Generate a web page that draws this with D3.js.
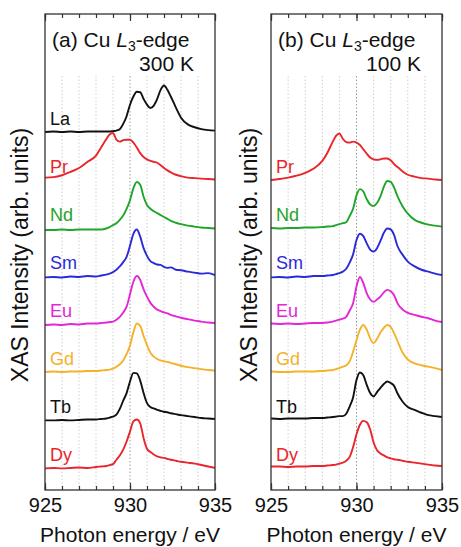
<!DOCTYPE html>
<html>
<head>
<meta charset="utf-8">
<script src="https://cdn.jsdelivr.net/npm/d3@7"></script>
<style>
  body { margin: 0; background: #fff; }
  svg text { font-family: "Liberation Sans", Arial, Helvetica, sans-serif; }
</style>
</head>
<body>
<svg id="chart" width="461" height="547"></svg>
<script>
// Photon energy grid (eV) shared by every spectrum
const energy = [925, 925.5, 926, 926.5, 927, 927.5, 928, 928.3, 928.6, 928.8,
  929.0, 929.2, 929.4, 929.6, 929.8, 930.0, 930.2, 930.4, 930.6, 930.8,
  931.0, 931.2, 931.4, 931.6, 931.8, 932.0, 932.2, 932.4,
  932.7, 933.0, 933.4, 933.8, 934.2, 934.6, 935];

const tickEnergies = d3.range(925, 936, 1);
const labeledTicks = [925, 930, 935];

// Stacking order, top to bottom
const samples300 = ["La", "Pr", "Nd", "Sm", "Eu", "Gd", "Tb", "Dy"];
const samples100 = ["Pr", "Nd", "Sm", "Eu", "Gd", "Tb", "Dy"];

// Cu L3-edge XAS, 300 K (normalized intensity)
const la300 = [0.00,0.01,0.00,0.01,0.00,0.01,0.01, 0.01,0.01,0.01,
  0.02,0.03,0.06,0.17,0.33,0.57,0.74,0.84,0.83,0.69,0.57,0.50,0.55,0.69,0.88,0.97,0.88,0.74,
  0.51,0.30,0.16,0.10,0.06,0.04,0.03];
const pr300 = [0.05,0.06,0.10,0.17,0.25,0.38,0.51, 0.68,0.85,0.95,
  0.98,0.84,0.80,0.83,0.84,0.84,0.78,0.68,0.56,0.48,0.43,0.40,0.38,0.36,0.31,0.25,0.20,0.16,
  0.11,0.08,0.05,0.04,0.03,0.02,0.01];
const nd300 = [-0.04,-0.04,-0.03,-0.04,-0.03,-0.03,-0.03, -0.03,-0.01,0.02,
  0.06,0.10,0.17,0.26,0.40,0.58,0.83,0.96,0.90,0.65,0.48,0.40,0.35,0.31,0.27,0.23,0.19,0.15,
  0.11,0.08,0.05,0.03,0.01,0.00,-0.01];
const sm300 = [-0.03,-0.02,-0.03,-0.01,-0.02,0.00,-0.01, 0.01,0.03,0.05,
  0.08,0.13,0.20,0.29,0.40,0.63,0.88,0.97,0.82,0.58,0.42,0.31,0.27,0.24,0.23,0.19,0.17,0.18,
  0.13,0.12,0.09,0.07,0.05,0.06,0.02];
const eu300 = [-0.02,-0.01,-0.02,0.00,-0.01,0.01,0.01, 0.02,0.03,0.04,
  0.05,0.09,0.15,0.24,0.36,0.62,0.88,1.00,0.92,0.72,0.57,0.44,0.36,0.30,0.27,0.24,0.22,0.19,
  0.16,0.13,0.10,0.07,0.05,0.03,0.02];
const gd300 = [0.00,0.01,0.00,0.01,0.01,0.02,0.02, 0.03,0.04,0.05,
  0.07,0.11,0.16,0.24,0.37,0.55,0.83,1.01,0.96,0.75,0.56,0.40,0.32,0.27,0.24,0.22,0.21,0.19,
  0.16,0.13,0.10,0.08,0.06,0.04,0.03];
const tb300 = [-0.01,-0.01,0.00,-0.01,0.00,0.01,0.01, 0.02,0.03,0.05,
  0.07,0.11,0.23,0.40,0.56,0.80,0.98,0.97,0.82,0.56,0.35,0.27,0.24,0.21,0.19,0.17,0.16,0.14,
  0.12,0.10,0.08,0.06,0.04,0.03,0.02];
const dy300 = [-0.01,0.00,-0.01,0.00,0.01,0.00,0.02, 0.03,0.04,0.06,
  0.08,0.17,0.26,0.38,0.55,0.76,0.97,1.01,0.93,0.62,0.40,0.33,0.28,0.24,0.22,0.21,0.19,0.17,
  0.15,0.13,0.11,0.09,0.06,0.03,0.00];

// Cu L3-edge XAS, 100 K (normalized intensity)
const pr100 = [0.00,0.02,0.05,0.09,0.15,0.24,0.40, 0.57,0.79,0.92,
  0.97,0.86,0.79,0.78,0.80,0.78,0.73,0.64,0.55,0.47,0.43,0.42,0.43,0.45,0.45,0.41,0.33,0.27,
  0.18,0.11,0.07,0.04,0.03,0.01,0.00];
const nd100 = [0.00,-0.01,0.00,0.00,0.01,0.01,0.02, 0.03,0.04,0.06,
  0.08,0.10,0.12,0.25,0.40,0.68,0.81,0.76,0.60,0.49,0.46,0.52,0.66,0.86,0.98,0.96,0.84,0.66,
  0.45,0.30,0.17,0.11,0.07,0.05,0.03];
const sm100 = [-0.03,-0.02,-0.03,-0.01,-0.02,0.00,0.00, 0.01,0.02,0.04,
  0.06,0.09,0.15,0.28,0.45,0.75,0.88,0.83,0.68,0.55,0.51,0.58,0.73,0.90,0.99,0.97,0.85,0.62,
  0.44,0.30,0.20,0.13,0.09,0.05,0.02];
const eu100 = [0.01,0.00,0.01,0.00,0.01,0.02,0.02, 0.03,0.05,0.07,
  0.09,0.11,0.15,0.28,0.43,0.78,0.98,0.85,0.64,0.51,0.46,0.51,0.57,0.66,0.71,0.68,0.60,0.43,
  0.30,0.23,0.19,0.15,0.12,0.07,0.04];
const gd100 = [0.01,0.00,0.00,0.01,0.01,0.01,0.02, 0.03,0.04,0.06,
  0.08,0.11,0.14,0.22,0.42,0.66,0.88,0.98,0.88,0.70,0.60,0.69,0.82,0.92,0.98,0.94,0.81,0.64,
  0.40,0.26,0.18,0.14,0.11,0.08,0.04];
const tb100 = [0.03,0.02,0.03,0.03,0.03,0.04,0.04, 0.05,0.06,0.07,
  0.08,0.08,0.13,0.28,0.47,0.83,0.99,0.93,0.73,0.56,0.49,0.58,0.67,0.75,0.80,0.77,0.71,0.55,
  0.38,0.27,0.21,0.15,0.10,0.08,0.06];
const dy100 = [0.03,0.03,0.02,0.03,0.03,0.04,0.04, 0.05,0.06,0.07,
  0.09,0.11,0.15,0.23,0.43,0.70,0.90,0.98,0.95,0.80,0.53,0.37,0.30,0.26,0.22,0.20,0.18,0.17,
  0.15,0.13,0.11,0.09,0.07,0.05,0.04];

const spectra300 = { La: la300, Pr: pr300, Nd: nd300, Sm: sm300, Eu: eu300, Gd: gd300, Tb: tb300, Dy: dy300 };
const spectra100 = { Pr: pr100, Nd: nd100, Sm: sm100, Eu: eu100, Gd: gd100, Tb: tb100, Dy: dy100 };

const sampleColors = {
  La: "#111111", Pr: "#e8262b", Nd: "#1fa52a", Sm: "#2a2ad8",
  Eu: "#e326d8", Gd: "#f3b22a", Tb: "#111111", Dy: "#e8262b"
};

const svg = d3.select("#chart");
const frameTop = 14, frameBottom = 490;
const y = d3.scaleLinear().domain([-0.46, 9.46]).range([frameBottom, frameTop]);

const panels = [
  { tag: "(a)", temp: "300 K", names: samples300, spectra: spectra300, left: 45, right: 215, titleX: 28 },
  { tag: "(b)", temp: "100 K", names: samples100, spectra: spectra100, left: 271, right: 442, titleX: 257 }
];

panels.forEach(p => {
  const x = d3.scaleLinear().domain([925, 935]).range([p.left, p.right]);
  const g = svg.append("g");

  // dotted guide lines at every eV
  g.append("g").selectAll("line")
    .data(tickEnergies.slice(1, -1))
    .join("line")
    .attr("x1", d => x(d)).attr("x2", d => x(d))
    .attr("y1", 76).attr("y2", frameBottom)
    .attr("stroke", d => d === 930 ? "#9a9a9a" : "#cfcfcf")
    .attr("stroke-width", 1)
    .attr("stroke-dasharray", "1.5,2");

  // stacked spectra
  const n = p.names.length;
  p.names.forEach((name, i) => {
    const offset = n - 1 - i;
    const vals = p.spectra[name];
    const line = d3.line()
      .x((d, j) => x(energy[j]))
      .y(d => y(d + offset))
      .curve(d3.curveMonotoneX);
    g.append("path")
      .datum(vals)
      .attr("d", line)
      .attr("fill", "none")
      .attr("stroke", sampleColors[name])
      .attr("stroke-width", 1.9)
      .attr("stroke-linejoin", "round");
    g.append("text")
      .attr("x", p.left + 5)
      .attr("y", y(offset) - 7)
      .attr("font-size", 18)
      .attr("fill", sampleColors[name])
      .text(name);
  });

  // frame
  g.append("rect")
    .attr("x", p.left).attr("y", frameTop)
    .attr("width", p.right - p.left).attr("height", frameBottom - frameTop)
    .attr("fill", "none").attr("stroke", "#333").attr("stroke-width", 1.3);

  // inward ticks, bottom and top
  const minorB = d3.axisBottom(x).tickValues(tickEnergies).tickSizeInner(-4).tickSizeOuter(0).tickFormat("");
  const majorB = d3.axisBottom(x).tickValues(labeledTicks).tickSizeInner(-7).tickSizeOuter(0)
    .tickPadding(8).tickFormat(d3.format("d"));
  const minorT = d3.axisTop(x).tickValues(tickEnergies).tickSizeInner(-4).tickSizeOuter(0).tickFormat("");
  const majorT = d3.axisTop(x).tickValues(labeledTicks).tickSizeInner(-7).tickSizeOuter(0).tickFormat("");

  [minorB, majorB].forEach(ax => {
    const a = g.append("g").attr("transform", `translate(0,${frameBottom})`).call(ax);
    a.select(".domain").remove();
    a.selectAll("line").attr("stroke", "#333").attr("stroke-width", 1.2);
    a.selectAll("text").attr("font-size", 20).attr("fill", "#111")
      .attr("font-family", "'Liberation Sans', Arial, sans-serif");
  });
  [minorT, majorT].forEach(ax => {
    const a = g.append("g").attr("transform", `translate(0,${frameTop})`).call(ax);
    a.select(".domain").remove();
    a.selectAll("line").attr("stroke", "#333").attr("stroke-width", 1.2);
  });

  // panel title
  const t = g.append("text").attr("x", p.left + 7).attr("y", 47)
    .attr("font-size", 21).attr("fill", "#111");
  t.append("tspan").text(p.tag + " Cu ");
  t.append("tspan").attr("font-style", "italic").text("L");
  t.append("tspan").attr("font-size", 14).attr("dy", 4).text("3");
  t.append("tspan").attr("dy", -4).text("-edge");
  g.append("text").attr("x", p.right - 21).attr("y", 71)
    .attr("text-anchor", "end").attr("font-size", 21).attr("fill", "#111")
    .text(p.temp);

  // axis titles
  g.append("text")
    .attr("transform", `translate(${p.titleX},${(frameTop + frameBottom) / 2 + 3}) rotate(-90)`)
    .attr("text-anchor", "middle").attr("font-size", 23).attr("fill", "#111")
    .text("XAS Intensity (arb. units)");
  g.append("text")
    .attr("x", (p.left + p.right) / 2).attr("y", 542)
    .attr("text-anchor", "middle").attr("font-size", 21).attr("fill", "#111")
    .text("Photon energy / eV");
});
</script>
</body>
</html>
